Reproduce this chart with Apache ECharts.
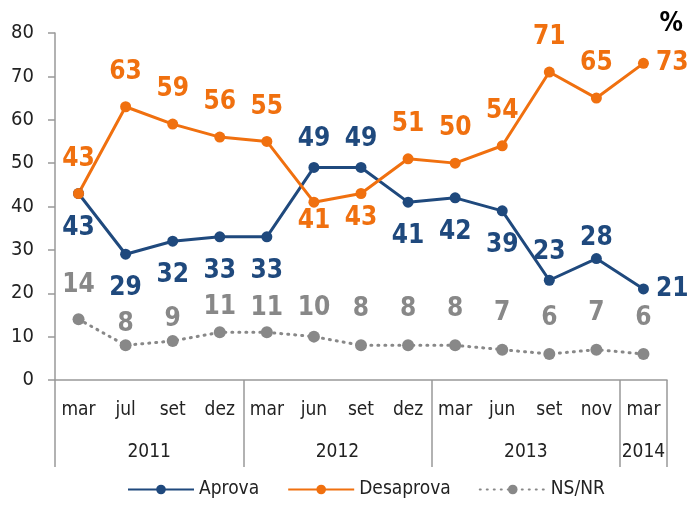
<!DOCTYPE html>
<html>
<head>
<meta charset="utf-8">
<script src="https://cdn.jsdelivr.net/npm/echarts@6/dist/echarts.min.js"></script>
<style>
html,body{margin:0;padding:0;background:#fff;}
#chart{width:690px;height:505px;}
</style>
</head>
<body>
<div id="chart"></div>
<script>
var months = ['mar','jul','set','dez','mar','jun','set','dez','mar','jun','set','nov','mar'];
var years = ['2011','2012','2013','2014'];
var yearSpans = [4,4,4,1];
var aprova = [43,29,32,33,33,49,49,41,42,39,23,28,21];
var desaprova = [43,63,59,56,55,41,43,51,50,54,71,65,73];
var nsnr = [14,8,9,11,11,10,8,8,8,7,6,7,6];

var FONT = "'Liberation Sans Narrow','DejaVu Sans Condensed',sans-serif";
var BLUE = '#1F497D', ORANGE = '#F0700F', GRAY = '#888888';

// fronteiras e centros dos anos
var bounds = [0], centers = [], acc = 0;
for (var i = 0; i < yearSpans.length; i++) {
	centers.push(acc + yearSpans[i] / 2);
	acc += yearSpans[i];
	bounds.push(acc);
}

// posicao dos rotulos (igual ao original)
function lbl(vals, pos, gap, color) {
	return vals.map(function (v, i) {
		return {value: v, label: {position: pos[i], distance: gap[i], color: color}};
	});
}
var aPos = ['bottom','bottom','bottom','bottom','bottom','top','top','bottom','bottom','bottom','top','top','right'];
var aGap = [16,16,16,16,16,10,10,16,16,16,9,2,7];
var dPos = ['top','top','top','top','top','bottom','bottom','top','top','top','top','top','right'];
var dGap = [16,16,16,16,16,1,6,16,16,16,16,16,7];
var nPos = months.map(function () { return 'top'; });
var nGap = [15,2,3,6,5,9,17,17,17,17,17,17,17];

var myChart = echarts.init(document.getElementById('chart'));
var option = {
	animation: false,
	textStyle: {fontFamily: FONT},
	title: {text: '%', right: 2, top: 6, textStyle: {fontFamily: FONT, fontSize: 26, fontWeight: 'bold', color: '#000'}},
	grid: {left: 55, right: 23, top: 33, bottom: 125},
	legend: {
		bottom: 1, left: 122, itemWidth: 66, itemHeight: 12, itemGap: 28,
		textStyle: {fontFamily: FONT, fontSize: 19, color: '#222'},
		data: ['Aprova','Desaprova','NS/NR']
	},
	xAxis: [{
		type: 'category', data: months, boundaryGap: true,
		axisLine: {lineStyle: {color: '#999', width: 1.5}},
		axisTick: {show: false},
		axisLabel: {margin: 21, fontSize: 19, color: '#222', fontFamily: FONT, interval: 0}
	}, {
		type: 'value', min: 0, max: months.length, position: 'bottom',
		axisLine: {show: false},
		splitLine: {show: false},
		axisTick: {show: true, customValues: bounds, length: 87, lineStyle: {color: '#999', width: 1.5}},
		axisLabel: {customValues: centers, margin: 63, fontSize: 19, color: '#222', fontFamily: FONT,
			formatter: function (v) { return years[centers.indexOf(v)]; }}
	}],
	yAxis: {
		type: 'value', min: 0, max: 80, interval: 10,
		splitLine: {show: false},
		axisLine: {show: true, lineStyle: {color: '#999', width: 1.5}},
		axisTick: {show: true, length: 7, lineStyle: {color: '#999', width: 1.5}},
		axisLabel: {margin: 21, fontSize: 20, color: '#222', fontFamily: FONT}
	},
	series: [{
		name: 'Aprova', type: 'line', xAxisIndex: 0,
		data: lbl(aprova, aPos, aGap, BLUE),
		symbol: 'circle', symbolSize: 11,
		itemStyle: {color: BLUE}, lineStyle: {color: BLUE, width: 3},
		label: {show: true, fontSize: 26, fontWeight: 'bold', fontFamily: FONT}
	}, {
		name: 'Desaprova', type: 'line', xAxisIndex: 0,
		data: lbl(desaprova, dPos, dGap, ORANGE),
		symbol: 'circle', symbolSize: 11,
		itemStyle: {color: ORANGE}, lineStyle: {color: ORANGE, width: 3},
		label: {show: true, fontSize: 26, fontWeight: 'bold', fontFamily: FONT}
	}, {
		name: 'NS/NR', type: 'line', xAxisIndex: 0,
		data: lbl(nsnr, nPos, nGap, GRAY),
		symbol: 'circle', symbolSize: 12,
		itemStyle: {color: GRAY}, lineStyle: {color: GRAY, width: 3, type: [1, 6], cap: 'round'},
		label: {show: true, fontSize: 26, fontWeight: 'bold', fontFamily: FONT}
	}]
};
myChart.setOption(option);
</script>
</body>
</html>
